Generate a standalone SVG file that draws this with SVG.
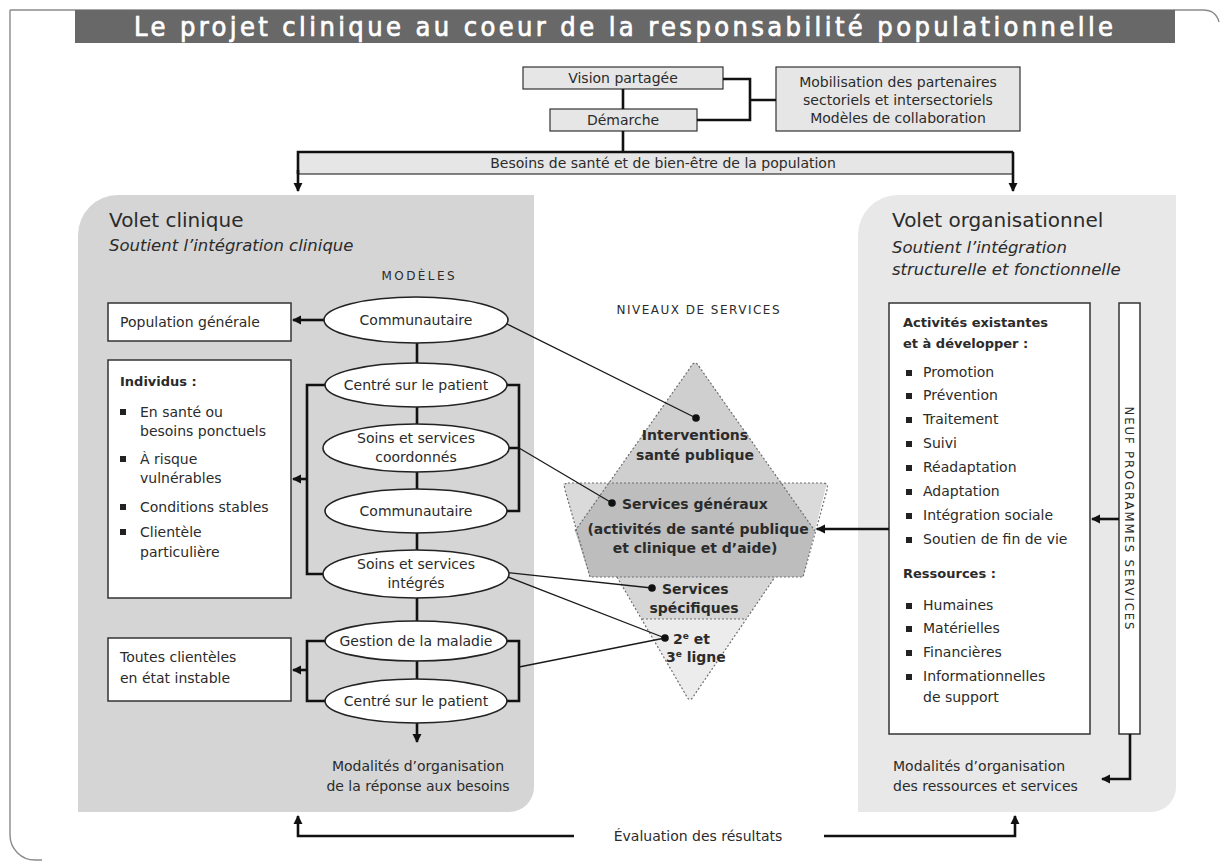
<svg xmlns="http://www.w3.org/2000/svg" width="1220" height="865" viewBox="0 0 1220 865">
<defs>
<marker id="ah" viewBox="0 0 10 10" refX="9" refY="5" markerWidth="3.6" markerHeight="3.6" orient="auto" markerUnits="strokeWidth"><path d="M0,0 L10,5 L0,10 z" fill="#111"/></marker>
<style>
.t{font-family:"DejaVu Sans","Liberation Sans",sans-serif;font-size:14px;fill:#2b2b2b}
.b{font-weight:bold;font-size:13px}
.tb{font-weight:bold;font-size:14px}
.c{text-anchor:middle}
.i{font-style:italic}
.conn{fill:none;stroke:#111;stroke-width:2.6}
.thin{fill:none;stroke:#1a1a1a;stroke-width:1.3}
.ell{fill:#fff;stroke:#222;stroke-width:1.6}
.box{fill:#fff;stroke:#333;stroke-width:1.5}
.gbox{fill:#e6e6e6;stroke:#333;stroke-width:1.2}
.dash{fill:none;stroke:#6e6e6e;stroke-width:1.2;stroke-dasharray:2 2;stroke-linejoin:round}
.bul{fill:#222}
</style>
</defs>
<rect width="1220" height="865" fill="#fff"/>
<!-- frame -->
<path d="M10,10 H1203 Q1216,10 1219,22 M10,10 V835 A25,25 0 0 0 35,860 H42" fill="none" stroke="#8a8a8a" stroke-width="1.4"/>
<!-- title -->
<g id="title">
<rect x="75" y="10" width="1100" height="33" fill="#686868"/>
<text x="134" y="36" style="font-family:'DejaVu Sans Condensed','DejaVu Sans',sans-serif;font-size:27px;fill:#fff;stroke:#fff;stroke-width:0.7" textLength="979" lengthAdjust="spacing">Le projet clinique au coeur de la responsabilité populationnelle</text>
</g>
<!-- panels -->
<g id="volet-clinique">
<path d="M78,812 V235 A40,40 0 0 1 118,195 H534 V787 A25,25 0 0 1 509,812 Z" fill="#d5d5d5"/>
<text x="109" y="227" class="t" style="font-size:20px">Volet clinique</text>
<text x="109" y="251" class="t i" style="font-size:16.5px">Soutient l’intégration clinique</text>
<text x="418" y="280" class="t c" style="font-size:12px" textLength="73" lengthAdjust="spacing">MODÈLES</text>
<text x="418" y="771" class="t c">Modalités d’organisation</text>
<text x="418" y="791" class="t c">de la réponse aux besoins</text>
</g>
<g id="volet-organisationnel">
<path d="M858,812 V235 A40,40 0 0 1 898,195 H1176 V787 A25,25 0 0 1 1151,812 Z" fill="#e8e8e8"/>
<text x="892" y="227" class="t" style="font-size:20px">Volet organisationnel</text>
<text x="892" y="253" class="t i" style="font-size:16.5px">Soutient l’intégration</text>
<text x="892" y="275" class="t i" style="font-size:16.5px">structurelle et fonctionnelle</text>
<text x="893" y="771" class="t">Modalités d’organisation</text>
<text x="893" y="791" class="t">des ressources et services</text>
</g>
<!-- hexagram -->
<g id="niveaux">
<text x="698" y="314" class="t c" style="font-size:12px" textLength="163" lengthAdjust="spacing">NIVEAUX DE SERVICES</text>
<polygon points="563,483 827,483 803,577 590,577" fill="#dadada"/>
<path d="M690,368 Q695,358 700,368 L781,483 L609,483 Z" fill="#cfcfcf"/>
<polygon points="609,483 781,483 815,531 803,577 590,577 575,531" fill="#bdbdbd"/>
<polygon points="617,577 775,577 746,619 642,619" fill="#d6d6d6"/>
<path d="M642,619 L746,619 L693,697 Q690,702 687,697 Z" fill="#ececec"/>
<path class="dash" d="M575,531 L690,368 Q695,358 700,368 L815,531"/>
<path class="dash" d="M568,483 H822 Q829,483 827,490 L803,577 H590 L565,490 Q563,483 568,483 Z"/>
<path class="dash" d="M617,577 L687,697 Q690,702 693,697 L775,577 M642,619 H746"/>
</g>
<!-- top nodes -->
<g id="vision"><rect x="523" y="67" width="200" height="22" class="gbox"/><text x="623" y="83" class="t c">Vision partagée</text></g>
<g id="demarche"><rect x="550" y="109" width="147" height="22" class="gbox"/><text x="623" y="125" class="t c">Démarche</text></g>
<g id="mobilisation"><rect x="776" y="67" width="244" height="64" class="gbox"/>
<text x="898" y="87" class="t c">Mobilisation des partenaires</text>
<text x="898" y="105" class="t c">sectoriels et intersectoriels</text>
<text x="898" y="123" class="t c">Modèles de collaboration</text></g>
<g id="besoins"><rect x="298" y="152" width="715" height="22" class="gbox"/><text x="663" y="168" class="t c">Besoins de santé et de bien-être de la population</text></g>
<!-- left boxes -->
<g id="population"><rect x="108" y="303" width="183" height="38" class="box"/><text x="120" y="327" class="t">Population générale</text></g>
<g id="individus"><rect x="108" y="360" width="183" height="238" class="box"/>
<text x="120" y="386" class="t b">Individus :</text>
<rect x="120" y="409" width="6" height="6" class="bul"/><text x="140" y="417" class="t">En santé ou</text><text x="140" y="436" class="t">besoins ponctuels</text>
<rect x="120" y="456" width="6" height="6" class="bul"/><text x="140" y="464" class="t">À risque</text><text x="140" y="483" class="t">vulnérables</text>
<rect x="120" y="504" width="6" height="6" class="bul"/><text x="140" y="512" class="t">Conditions stables</text>
<rect x="120" y="529" width="6" height="6" class="bul"/><text x="140" y="537" class="t">Clientèle</text><text x="140" y="557" class="t">particulière</text></g>
<g id="toutes"><rect x="108" y="638" width="183" height="63" class="box"/><text x="120" y="662" class="t">Toutes clientèles</text><text x="120" y="683" class="t">en état instable</text></g>
<!-- right boxes -->
<g id="activites"><rect x="889" y="303" width="201" height="431" class="box"/>
<text x="903" y="327" class="t b">Activités existantes</text>
<text x="903" y="348" class="t b">et à développer :</text>
<g class="bul">
<rect x="906" y="370" width="6" height="6"/><rect x="906" y="393" width="6" height="6"/><rect x="906" y="417" width="6" height="6"/><rect x="906" y="441" width="6" height="6"/><rect x="906" y="465" width="6" height="6"/><rect x="906" y="489" width="6" height="6"/><rect x="906" y="513" width="6" height="6"/><rect x="906" y="537" width="6" height="6"/>
<rect x="906" y="603" width="6" height="6"/><rect x="906" y="626" width="6" height="6"/><rect x="906" y="650" width="6" height="6"/><rect x="906" y="674" width="6" height="6"/></g>
<text x="923" y="377" class="t">Promotion</text>
<text x="923" y="400" class="t">Prévention</text>
<text x="923" y="424" class="t">Traitement</text>
<text x="923" y="448" class="t">Suivi</text>
<text x="923" y="472" class="t">Réadaptation</text>
<text x="923" y="496" class="t">Adaptation</text>
<text x="923" y="520" class="t">Intégration sociale</text>
<text x="923" y="544" class="t">Soutien de fin de vie</text>
<text x="903" y="578" class="t b">Ressources :</text>
<text x="923" y="610" class="t">Humaines</text>
<text x="923" y="633" class="t">Matérielles</text>
<text x="923" y="657" class="t">Financières</text>
<text x="923" y="681" class="t">Informationnelles</text>
<text x="923" y="702" class="t">de support</text></g>
<g id="neuf"><rect x="1119" y="303" width="21" height="431" class="box"/>
<text transform="translate(1125,518) rotate(90)" class="t c" style="font-family:'DejaVu Sans Condensed','DejaVu Sans',sans-serif;font-size:13px" textLength="223" lengthAdjust="spacing">NEUF PROGRAMMES SERVICES</text></g>
<!-- connectors -->
<g id="connectors">
<path class="conn" d="M623,89 V109 M623,131 V152 M723,79 H750 V120 H697 M750,100 H776"/>
<path class="conn" d="M298,174 V152 H1013" />
<path class="conn" d="M298,170 V191" marker-end="url(#ah)"/>
<path class="conn" d="M1013,152 V191" marker-end="url(#ah)"/>
<path class="conn" d="M417,340 V680"/>
<path class="conn" d="M325,385 H307 V574 H325 M505,385 H519 V511 H505 M507,448 H519"/>
<path class="conn" d="M327,641 H307 V701 H327 M505,641 H519 V701 H505"/>
<path class="conn" d="M307,479 H293" marker-end="url(#ah)"/>
<path class="conn" d="M307,670 H293" marker-end="url(#ah)"/>
<path class="conn" d="M324,320 H293" marker-end="url(#ah)"/>
<path class="conn" d="M417,722 V742" marker-end="url(#ah)"/>
<path class="conn" d="M889,529 H817" marker-end="url(#ah)"/>
<path class="conn" d="M1119,519 H1092" marker-end="url(#ah)"/>
<path class="conn" d="M1130,734 V779 H1102" marker-end="url(#ah)"/>
<path class="conn" d="M574,836 H298 V816" marker-end="url(#ah)"/>
<path class="conn" d="M824,836 H1015 V816" marker-end="url(#ah)"/>
<path class="thin" d="M503,322 L696,418 M519,448 L612,503 M503,572 L652,588 M503,575 L665,638 M519,667 L665,638"/>
<g fill="#111"><circle cx="696" cy="418" r="3.8"/><circle cx="612" cy="503" r="3.8"/><circle cx="652" cy="588" r="3.8"/><circle cx="665" cy="638" r="3.8"/></g>
</g>
<!-- ellipses -->
<g id="m-communautaire1"><ellipse cx="416" cy="320" rx="92" ry="23" class="ell"/><text x="416" y="325" class="t c">Communautaire</text></g>
<g id="m-centre1"><ellipse cx="416" cy="385" rx="91" ry="22" class="ell"/><text x="416" y="390" class="t c">Centré sur le patient</text></g>
<g id="m-coordonnes"><ellipse cx="416" cy="448" rx="93" ry="24" class="ell"/><text x="416" y="443" class="t c">Soins et services</text><text x="416" y="462" class="t c">coordonnés</text></g>
<g id="m-communautaire2"><ellipse cx="416" cy="511" rx="91" ry="22" class="ell"/><text x="416" y="516" class="t c">Communautaire</text></g>
<g id="m-integres"><ellipse cx="416" cy="574" rx="93" ry="24" class="ell"/><text x="416" y="569" class="t c">Soins et services</text><text x="416" y="588" class="t c">intégrés</text></g>
<g id="m-gestion"><ellipse cx="416" cy="641" rx="91" ry="20" class="ell"/><text x="416" y="646" class="t c">Gestion de la maladie</text></g>
<g id="m-centre2"><ellipse cx="416" cy="701" rx="91" ry="22" class="ell"/><text x="416" y="706" class="t c">Centré sur le patient</text></g>
<!-- level labels -->
<g id="l-interventions"><text x="695" y="440" class="t c tb">Interventions</text><text x="695" y="460" class="t c tb">santé publique</text></g>
<g id="l-generaux"><text x="622" y="509" class="t tb">Services généraux</text><text x="698" y="534" class="t c tb">(activités de santé publique</text><text x="695" y="553" class="t c tb">et clinique et d’aide)</text></g>
<g id="l-specifiques"><text x="662" y="594" class="t tb">Services</text><text x="694" y="613" class="t c tb">spécifiques</text></g>
<g id="l-ligne"><text x="673" y="644" class="t tb">2<tspan dy="-5" style="font-size:9px">e</tspan><tspan dy="5"> et</tspan></text><text x="666" y="662" class="t tb">3<tspan dy="-5" style="font-size:9px">e</tspan><tspan dy="5"> ligne</tspan></text></g>
<g id="evaluation"><text x="698" y="841" class="t c">Évaluation des résultats</text></g>
</svg>
